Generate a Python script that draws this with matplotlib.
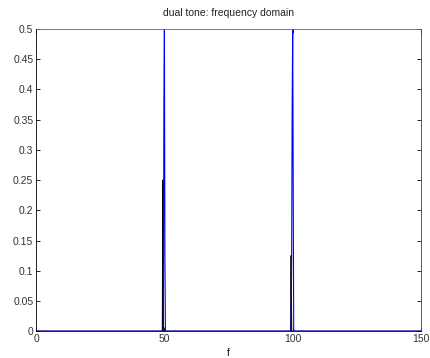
import matplotlib
matplotlib.use("Agg")
import matplotlib.pyplot as plt
import numpy as np

plt.rcParams['font.family'] = ['Liberation Sans', 'DejaVu Sans']

# magnitude spectrum of the dual tone
blue_f = [0, 49.6, 49.8, 50.0, 50.2, 50.4, 99.4, 99.6, 99.8, 100.0, 100.2, 100.4, 150]
blue_a = [0, 0, 0.375, 0.5, 0.125, 0, 0, 0.125, 0.375, 0.5, 0.25, 0, 0]
black_f = [0, 49.2, 49.4, 49.6, 99.2, 99.4, 99.6, 150]
black_a = [0, 0, 0.25, 0, 0, 0.125, 0, 0]

xticks = [0, 50, 100, 150]
yticks = [0, 0.05, 0.1, 0.15, 0.2, 0.25, 0.3, 0.35, 0.4, 0.45, 0.5]
ytick_labels = ["0", "0.05", "0.1", "0.15", "0.2", "0.25", "0.3", "0.35", "0.4", "0.45", "0.5"]

fig = plt.figure(figsize=(4.3, 3.58), dpi=100)
ax = fig.add_axes([0.084, 0.075, 0.895, 0.844])

ax.plot(black_f, black_a, color="black", lw=0.8)
ax.plot(blue_f, blue_a, color="blue", lw=0.8)

ax.set_xlim(0, 150)
ax.set_ylim(0, 0.5)
ax.set_xticks(xticks)
ax.set_xticklabels([str(t) for t in xticks])
ax.set_yticks(yticks)
ax.set_yticklabels(ytick_labels)
ax.tick_params(direction="in", top=True, right=True, labelsize=7.5, length=3,
               width=0.6, colors="black", labelcolor="#333333", pad=2)
for s in ax.spines.values():
    s.set_linewidth(0.6)
ax.spines["top"].set_color("#666666")
ax.spines["right"].set_color("#444444")

ax.set_title("dual tone: frequency domain", fontsize=7.5, pad=9, color="#222222")
ax.set_xlabel("f", fontsize=7, labelpad=3)

fig.savefig("out.png", dpi=100)
